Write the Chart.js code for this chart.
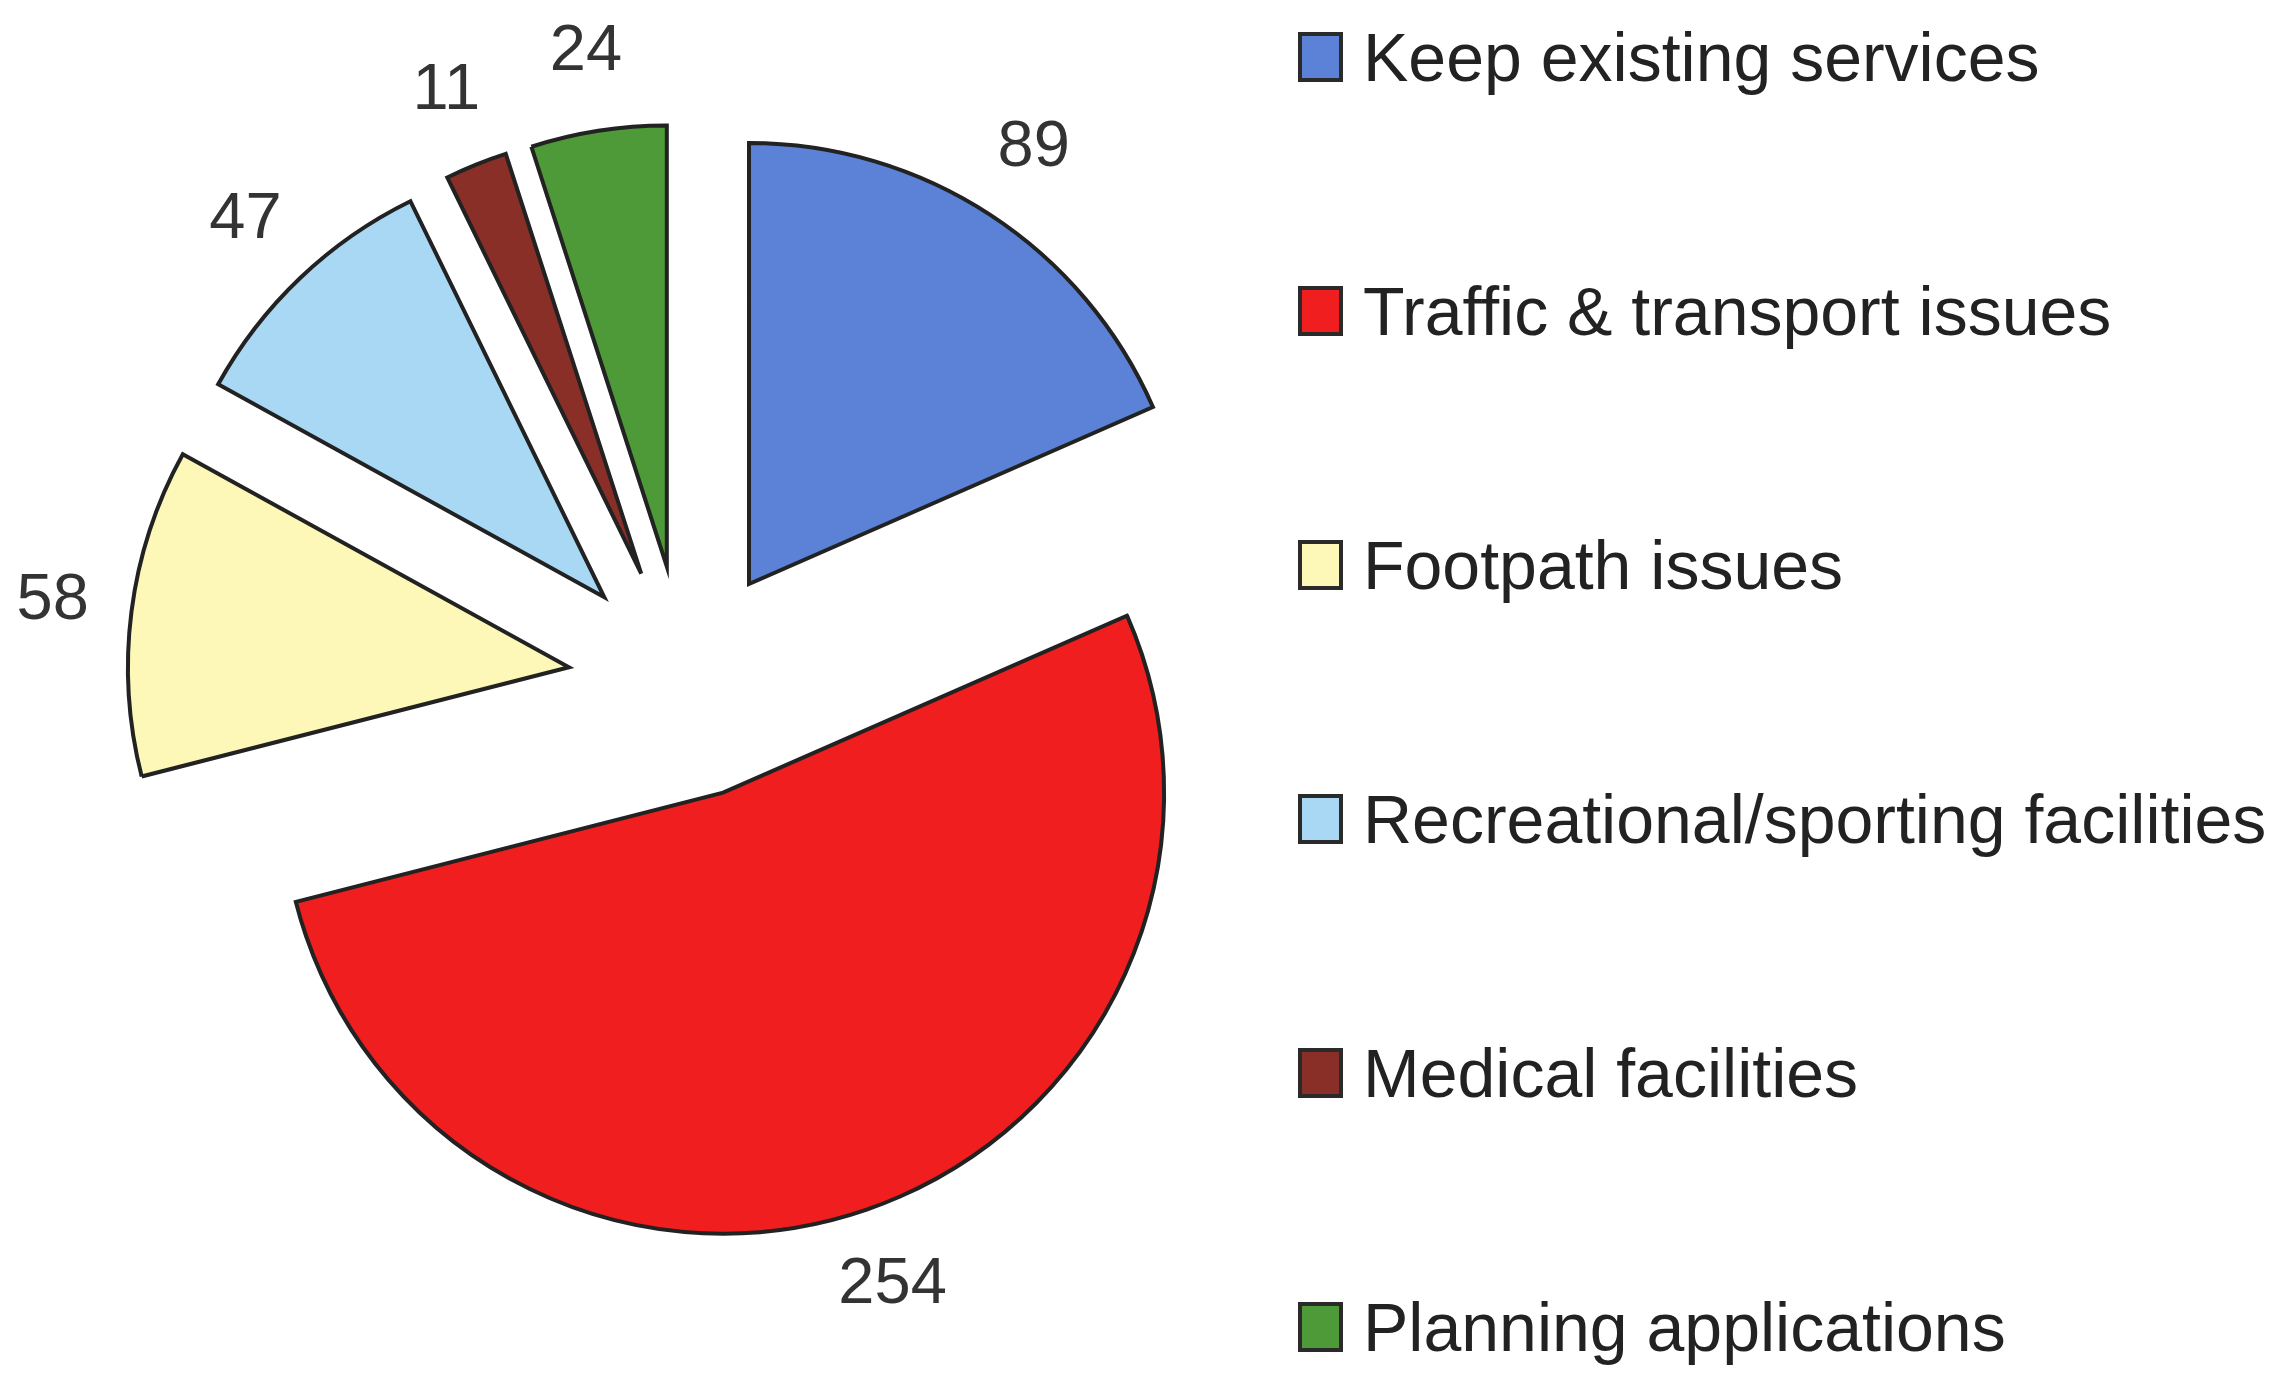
<!DOCTYPE html>
<html>
<head>
<meta charset="utf-8">
<script src="https://cdn.jsdelivr.net/npm/chart.js@4"></script>
<style>
  body { margin: 0; background: #fff; }
  #wrap { position: relative; width: 2291px; height: 1373px; }
  #legend { position: absolute; left: 1298px; top: 0; font-family: "Liberation Sans", Arial, sans-serif; font-size: 68px; color: #222; }
  .item { position: absolute; left: 0; white-space: nowrap; display: flex; align-items: center; height: 80px; }
  .box { width: 37px; height: 42px; border: 4px solid #2a2a2a; margin-right: 20px; }
</style>
</head>
<body>
<div id="wrap">
  <canvas id="pieChart"></canvas>
  <div id="legend"></div>
</div>
<script>
const categorias = [
    'Keep existing services',
    'Traffic & transport issues',
    'Footpath issues',
    'Recreational/sporting facilities',
    'Medical facilities',
    'Planning applications'
];
const valores = [89, 254, 58, 47, 11, 24];
const colores = ['#5b82d6', '#f01e1e', '#fdf8b8', '#a8d8f4', '#8a2f28', '#4e9a38'];

const RADIO = 441;
const SEPARACION = 117;

// separa cada porcion desde el centro sin agrandar el radio
const explotar = {
    id: 'explotar',
    beforeDatasetDraw(chart, args) {
        const ctx = chart.ctx;
        args.meta.data.forEach(arc => {
            const mid = (arc.startAngle + arc.endAngle) / 2;
            ctx.save();
            ctx.translate(Math.cos(mid) * SEPARACION, Math.sin(mid) * SEPARACION);
            arc.draw(ctx);
            ctx.restore();
        });
        return false;
    },
    afterDatasetsDraw(chart) {
        const ctx = chart.ctx;
        const meta = chart.getDatasetMeta(0);
        ctx.save();
        ctx.font = '65px "Liberation Sans", Arial, sans-serif';
        ctx.fillStyle = '#333';
        ctx.textAlign = 'center';
        ctx.textBaseline = 'middle';
        meta.data.forEach((arc, i) => {
            const mid = (arc.startAngle + arc.endAngle) / 2;
            const d = SEPARACION + arc.outerRadius * 1.18;
            ctx.fillText(valores[i], arc.x + Math.cos(mid) * d, arc.y + Math.sin(mid) * d);
        });
        ctx.restore();
    }
};

const ctx = document.getElementById('pieChart').getContext('2d');
new Chart(ctx, {
    type: 'pie',
    data: {
        labels: categorias,
        datasets: [{
            data: valores,
            backgroundColor: colores,
            borderColor: '#222',
            borderWidth: 4,
            borderJoinStyle: 'miter',
            radius: RADIO
        }]
    },
    options: {
        responsive: true,
        maintainAspectRatio: false,
        animation: false,
        layout: { padding: { left: 0, top: 0, right: 921, bottom: 9 } },
        plugins: {
            legend: { display: false },
            tooltip: { enabled: false }
        }
    },
    plugins: [explotar]
});

// leyenda a la derecha
const leyenda = document.getElementById('legend');
const filas = [57, 311, 565, 819, 1073, 1327];
categorias.forEach((c, i) => {
    const it = document.createElement('div');
    it.className = 'item';
    it.style.top = (filas[i] - 40) + 'px';
    it.innerHTML = '<div class="box" style="background:' + colores[i] + '"></div><span>' + c.replace('&', '&amp;') + '</span>';
    leyenda.appendChild(it);
});
</script>
</body>
</html>
